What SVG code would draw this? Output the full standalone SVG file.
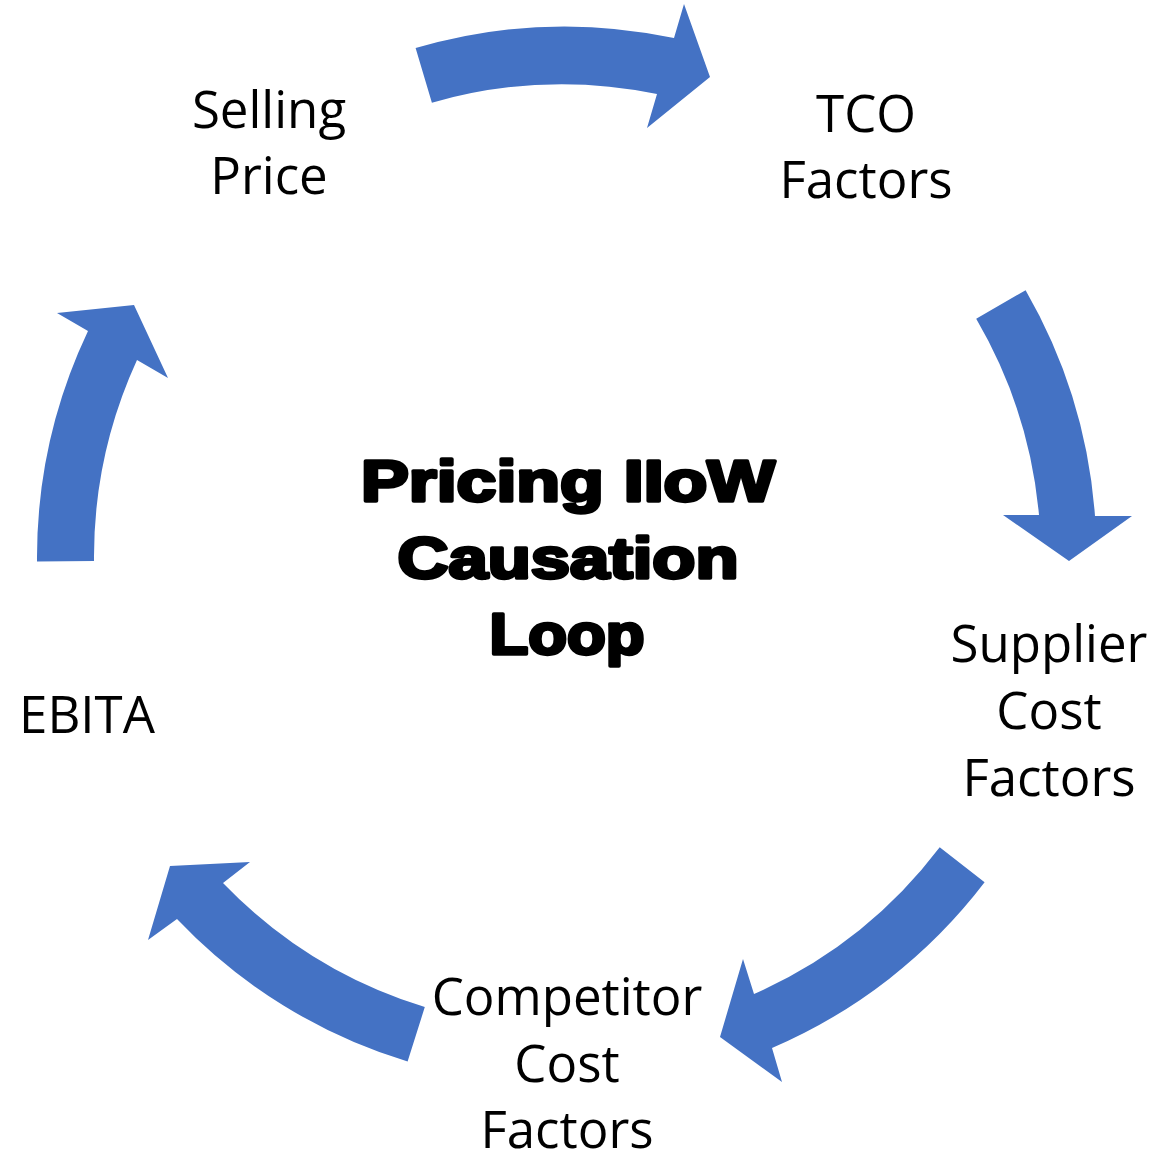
<svg xmlns="http://www.w3.org/2000/svg" width="1173" height="1156" viewBox="0 0 1173 1156">
<style>
.lbl{font-family:"Open Sans","Noto Sans","Liberation Sans",sans-serif;font-size:51px;fill:#000;text-anchor:middle}
.ttl{font-family:"Liberation Sans",Arial,sans-serif;font-weight:bold;font-size:57px;fill:#000;stroke:#000;stroke-width:3.4px;stroke-linejoin:round;text-anchor:middle}
.arr{fill:#4472C4;stroke:none}
</style>
<rect width="1173" height="1156" fill="#fff"/>
<g id="connectors">
<path class="arr" d="M 415.6,48.1 A 530 530 0 0 1 674,38 L 684,4 L 710,77 L 647,128 L 657,94 A 473 473 0 0 0 431.9,102.7 Z"/>
<path class="arr" d="M 1025.6,290.2 A 530 530 0 0 1 1095,516 L 1132,516 L 1069,561 L 1003,515 L 1039,515 A 473 473 0 0 0 976.2,318.8 Z"/>
<path class="arr" d="M 984.6,882.3 A 530 530 0 0 1 772,1048 L 782,1082 L 720,1037 L 743,959 L 754,994 A 473 473 0 0 0 939.7,847.2 Z"/>
<path class="arr" d="M 407.6,1061.5 A 530 530 0 0 1 177,919 L 148,940 L 170,866 L 250,862 L 223,883 A 473 473 0 0 0 424.8,1007.1 Z"/>
<path class="arr" d="M 37,561.5 A 530 530 0 0 1 88,331 L 57,313 L 134,305 L 168,378 L 137,360 A 473 473 0 0 0 94,561 Z"/>
</g>
<g id="title">
<text class="ttl" x="568" y="501" textLength="414" lengthAdjust="spacingAndGlyphs">Pricing IIoW</text>
<text class="ttl" x="568" y="578" textLength="341" lengthAdjust="spacingAndGlyphs">Causation</text>
<text class="ttl" x="567" y="654" textLength="155" lengthAdjust="spacingAndGlyphs">Loop</text>
</g>
<g id="node-selling-price">
<text class="lbl" x="269" y="128">Selling</text>
<text class="lbl" x="269" y="194">Price</text>
</g>
<g id="node-tco-factors">
<text class="lbl" x="866" y="132">TCO</text>
<text class="lbl" x="866" y="198">Factors</text>
</g>
<g id="node-supplier-cost-factors">
<text class="lbl" x="1049" y="662">Supplier</text>
<text class="lbl" x="1049" y="729">Cost</text>
<text class="lbl" x="1049" y="796">Factors</text>
</g>
<g id="node-competitor-cost-factors">
<text class="lbl" x="567" y="1015">Competitor</text>
<text class="lbl" x="567" y="1082">Cost</text>
<text class="lbl" x="567" y="1148">Factors</text>
</g>
<g id="node-ebita">
<text class="lbl" x="87" y="733">EBITA</text>
</g>
</svg>
